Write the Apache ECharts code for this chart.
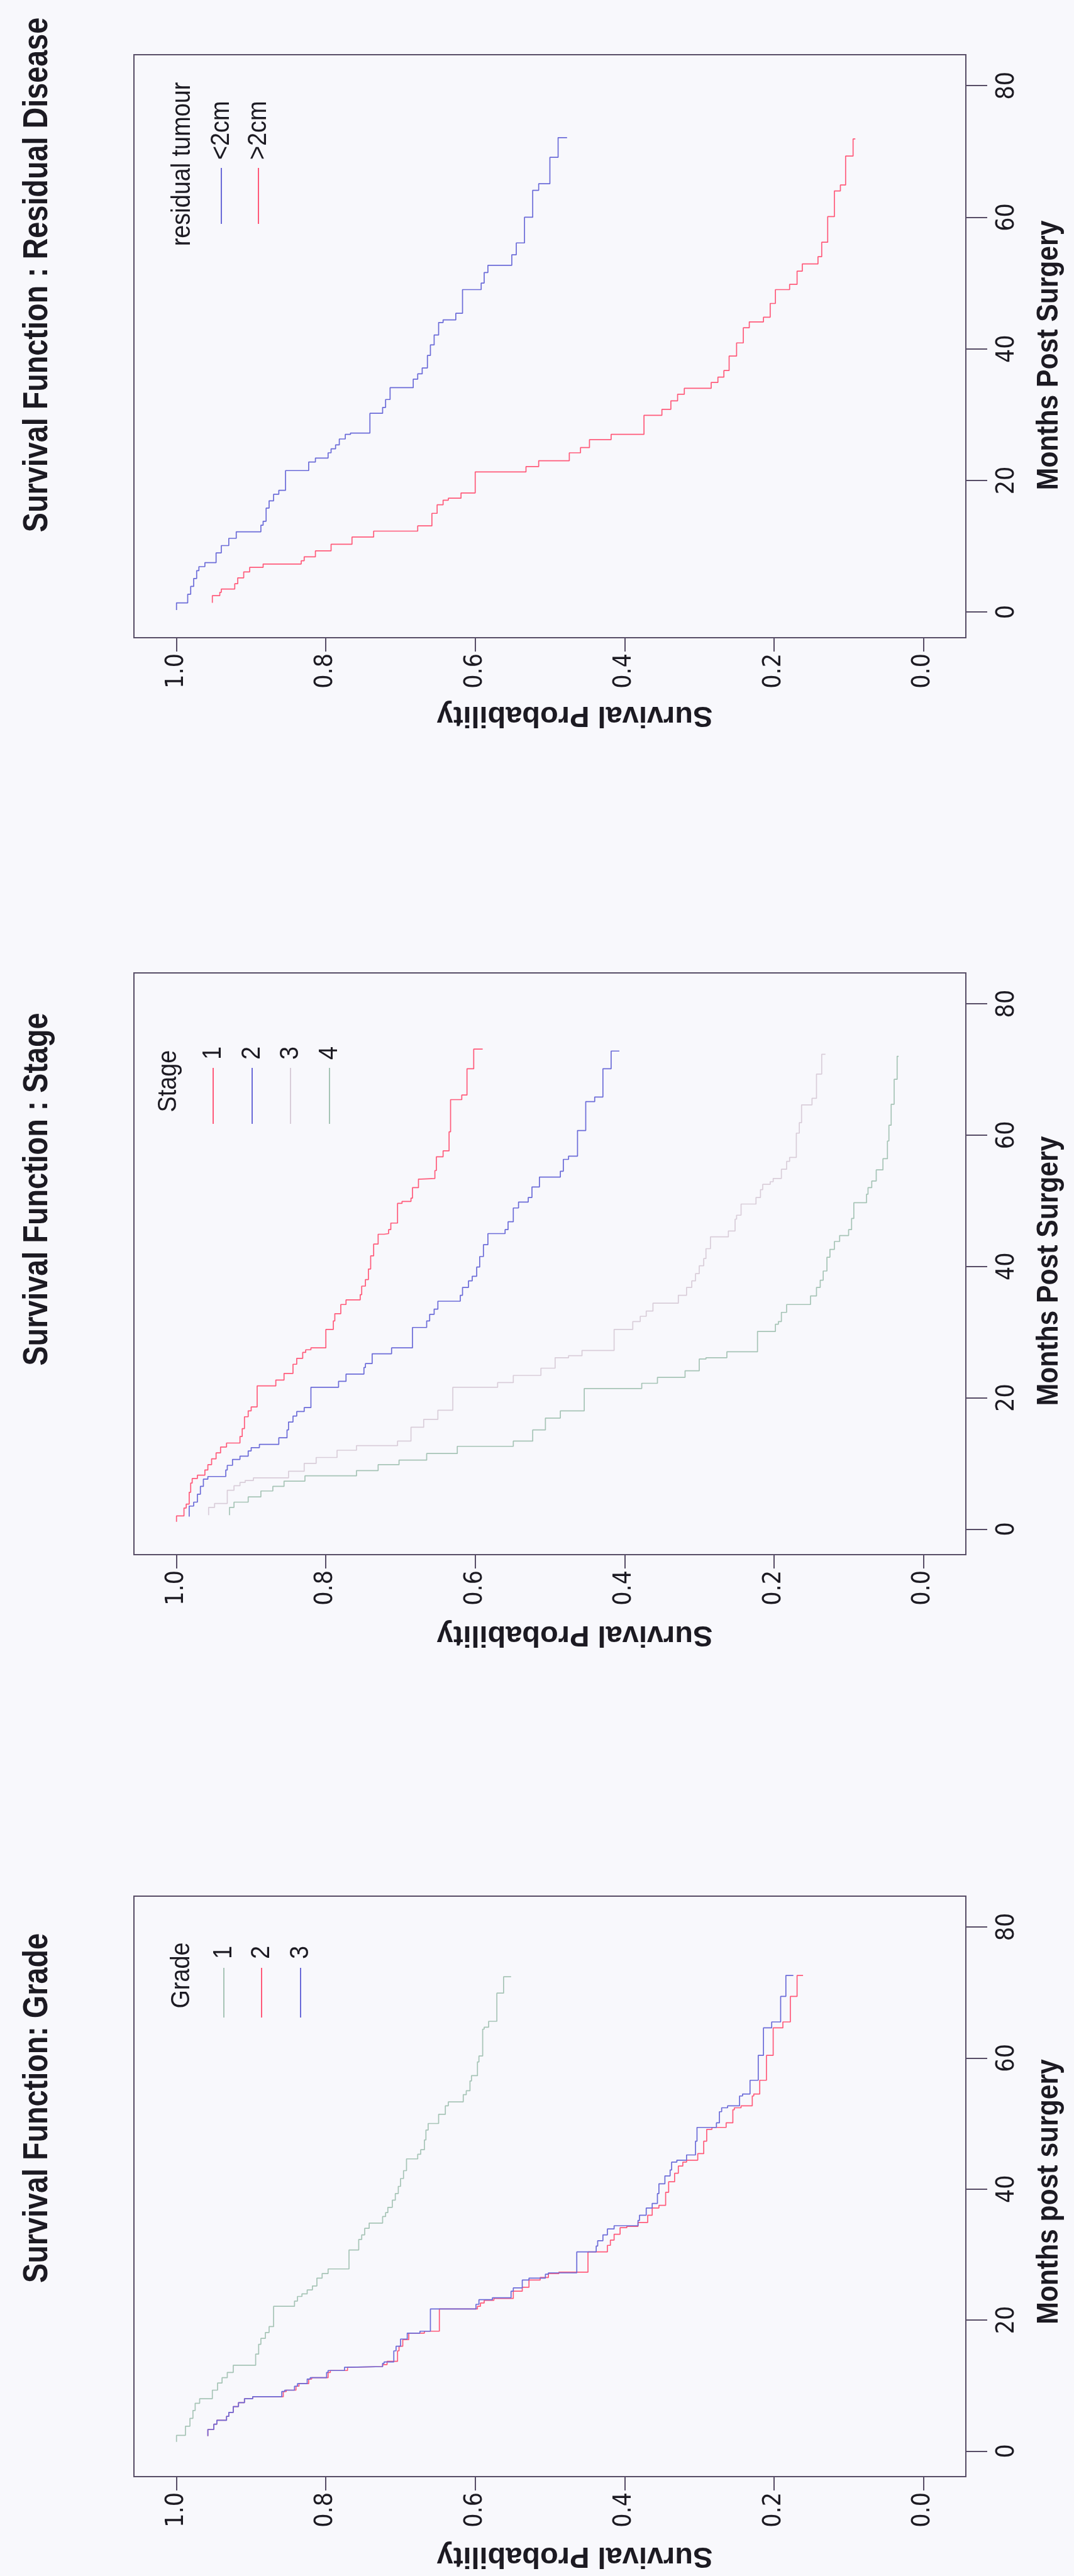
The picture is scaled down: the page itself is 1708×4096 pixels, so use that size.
<!DOCTYPE html>
<html>
<head>
<meta charset="utf-8">
<script src="https://cdn.jsdelivr.net/npm/echarts@6/dist/echarts.min.js"></script>
<style>
  html, body { margin: 0; padding: 0; background: #f8f8fc; }
  #chart { width: 1708px; height: 4096px; }
</style>
</head>
<body>
<div id="chart"></div>
<script>
// axis ticks
const monthTicks = [0, 20, 40, 60, 80];
const probTicks = [0, 0.2, 0.4, 0.6, 0.8, 1.0];

// [months, survival]

// residual disease
const residualSmall = [[0.3,1.0],[1.4,0.985],[2.7,0.981],[3.9,0.977],[5.1,0.973],[6.3,0.970],[6.9,0.962],[7.5,0.947],[9.0,0.940],[10.1,0.930],[11.2,0.920],[12.2,0.887],[13.2,0.884],[13.8,0.880],[15.8,0.876],[16.9,0.870],[17.9,0.863],[18.5,0.854],[21.5,0.823],[22.8,0.814],[23.4,0.797],[24.2,0.793],[24.8,0.787],[25.4,0.782],[26.3,0.774],[27.0,0.767],[27.2,0.741],[30.2,0.724],[31.1,0.720],[32.3,0.714],[34.1,0.683],[35.4,0.677],[36.2,0.671],[37.1,0.664],[39.0,0.660],[40.6,0.655],[42.1,0.649],[44.0,0.643],[44.4,0.626],[45.4,0.617],[49.0,0.592],[50.0,0.588],[51.6,0.583],[52.7,0.551],[54.3,0.545],[56.1,0.534],[60.0,0.523],[64.1,0.515],[65.1,0.500],[69.1,0.489],[72.1,0.477]];
const residualLarge = [[1.4,0.952],[2.5,0.942],[3.0,0.940],[3.5,0.922],[4.3,0.918],[5.2,0.910],[6.1,0.902],[6.8,0.884],[7.3,0.833],[7.8,0.829],[8.4,0.814],[9.3,0.793],[10.3,0.765],[11.4,0.736],[12.3,0.677],[13.1,0.658],[15.0,0.651],[16.3,0.643],[17.0,0.636],[17.3,0.619],[18.1,0.600],[21.3,0.532],[22.1,0.515],[23.0,0.474],[24.2,0.459],[25.0,0.447],[26.2,0.418],[27.0,0.374],[29.9,0.350],[30.8,0.338],[32.1,0.329],[33.1,0.320],[34.0,0.284],[34.9,0.275],[35.7,0.267],[36.7,0.260],[38.9,0.250],[40.9,0.241],[43.2,0.233],[44.1,0.214],[44.8,0.205],[46.9,0.198],[49.0,0.179],[49.8,0.169],[51.8,0.162],[52.9,0.141],[54.0,0.136],[56.2,0.128],[60.1,0.119],[64.0,0.111],[64.9,0.104],[69.3,0.094],[71.9,0.091]];

// stage
const stage1 = [[1.1,1.0],[2.0,0.990],[3.2,0.987],[3.8,0.983],[5.6,0.981],[7.0,0.979],[7.7,0.972],[8.2,0.962],[9.0,0.958],[9.8,0.953],[10.7,0.947],[11.6,0.941],[12.5,0.933],[13.1,0.915],[14.1,0.912],[15.3,0.909],[17.1,0.904],[18.0,0.900],[18.6,0.892],[21.8,0.867],[22.7,0.856],[23.7,0.844],[25.1,0.839],[26.0,0.831],[26.9,0.827],[27.3,0.820],[27.6,0.800],[30.4,0.790],[31.7,0.788],[32.8,0.780],[34.2,0.773],[34.9,0.754],[35.7,0.752],[37.0,0.747],[38.0,0.743],[39.6,0.740],[41.6,0.736],[43.4,0.730],[44.9,0.722],[45.0,0.716],[45.6,0.713],[46.6,0.704],[49.6,0.698],[49.9,0.686],[50.4,0.684],[52.0,0.676],[53.3,0.673],[53.4,0.654],[54.6,0.652],[56.7,0.643],[57.6,0.635],[60.5,0.633],[65.4,0.618],[66.1,0.611],[70.1,0.602],[73.1,0.590]];
const stage2 = [[1.9,0.983],[3.5,0.977],[4.1,0.972],[5.3,0.968],[6.5,0.964],[7.6,0.958],[8.0,0.934],[9.0,0.932],[9.7,0.925],[10.6,0.915],[11.1,0.904],[11.9,0.900],[12.4,0.889],[12.9,0.863],[13.9,0.852],[15.1,0.850],[16.3,0.844],[17.2,0.839],[17.9,0.829],[18.5,0.820],[21.6,0.783],[22.5,0.773],[23.6,0.749],[24.6,0.747],[25.2,0.738],[26.7,0.712],[27.6,0.684],[30.7,0.665],[31.7,0.661],[32.7,0.655],[33.5,0.650],[34.7,0.620],[35.6,0.617],[36.8,0.609],[37.8,0.604],[38.5,0.598],[39.9,0.594],[41.5,0.589],[43.3,0.583],[45.0,0.560],[45.6,0.556],[46.8,0.549],[48.9,0.542],[49.8,0.529],[50.5,0.524],[52.1,0.514],[53.6,0.486],[54.5,0.482],[56.3,0.475],[56.8,0.463],[60.7,0.452],[65.1,0.440],[65.8,0.429],[70.1,0.418],[72.8,0.407]];
const stage3 = [[2.1,0.957],[3.3,0.949],[3.9,0.932],[5.9,0.923],[6.6,0.915],[7.1,0.908],[7.4,0.897],[7.8,0.850],[8.8,0.829],[10.0,0.813],[10.9,0.785],[12.0,0.759],[12.7,0.704],[13.4,0.686],[15.5,0.669],[16.7,0.650],[18.1,0.630],[21.6,0.570],[22.3,0.549],[23.4,0.512],[24.5,0.493],[26.1,0.475],[26.4,0.457],[27.2,0.414],[30.4,0.389],[31.6,0.379],[32.4,0.371],[33.2,0.362],[34.4,0.328],[35.6,0.317],[36.8,0.310],[37.8,0.305],[38.9,0.300],[40.1,0.294],[41.2,0.291],[42.7,0.285],[44.5,0.261],[45.4,0.252],[47.2,0.250],[47.8,0.244],[49.5,0.224],[50.5,0.218],[51.7,0.215],[52.5,0.205],[52.9,0.201],[53.4,0.190],[54.8,0.183],[56.0,0.179],[56.6,0.170],[60.3,0.166],[61.9,0.163],[64.6,0.149],[65.6,0.143],[69.3,0.136],[72.3,0.131]];
const stage4 = [[2.1,0.929],[3.3,0.923],[4.1,0.904],[4.9,0.887],[5.8,0.871],[6.5,0.856],[7.3,0.828],[8.1,0.759],[8.9,0.730],[9.8,0.702],[10.5,0.665],[11.5,0.624],[12.6,0.549],[13.4,0.523],[15.1,0.506],[16.9,0.486],[18.0,0.454],[21.4,0.377],[22.2,0.356],[23.1,0.319],[24.1,0.300],[25.9,0.291],[26.1,0.263],[27.0,0.222],[30.1,0.198],[31.2,0.194],[31.6,0.190],[33.0,0.183],[34.2,0.151],[35.5,0.143],[36.8,0.138],[37.9,0.134],[39.3,0.129],[41.4,0.125],[42.6,0.119],[43.8,0.112],[44.7,0.100],[45.6,0.096],[47.3,0.093],[49.7,0.076],[51.0,0.074],[52.0,0.069],[53.0,0.063],[54.7,0.054],[56.4,0.048],[59.1,0.046],[61.5,0.043],[64.7,0.039],[68.5,0.035],[72.0,0.033]];

// grade
const grade1 = [[1.4,1.0],[2.4,0.988],[3.8,0.982],[5.0,0.978],[6.2,0.975],[7.3,0.969],[8.0,0.952],[9.3,0.945],[10.4,0.939],[11.2,0.932],[12.0,0.924],[13.1,0.894],[14.8,0.890],[16.3,0.887],[17.2,0.881],[18.1,0.876],[19.0,0.870],[22.1,0.842],[22.9,0.838],[23.6,0.832],[24.0,0.825],[24.6,0.818],[25.2,0.812],[26.4,0.805],[27.1,0.797],[27.8,0.769],[30.7,0.756],[32.3,0.752],[33.0,0.748],[34.0,0.742],[34.8,0.724],[35.8,0.720],[36.4,0.717],[37.2,0.711],[38.3,0.707],[39.3,0.703],[40.4,0.700],[41.6,0.696],[42.8,0.692],[44.6,0.677],[45.3,0.673],[46.0,0.668],[47.5,0.666],[49.0,0.663],[50.0,0.649],[51.4,0.640],[52.7,0.636],[53.3,0.616],[54.4,0.612],[55.0,0.607],[56.5,0.605],[57.3,0.597],[59.4,0.595],[60.3,0.590],[64.4,0.588],[64.7,0.582],[65.6,0.571],[69.9,0.562],[72.4,0.552]];
const grade2 = [[2.3,0.958],[3.3,0.950],[4.1,0.946],[4.7,0.933],[5.3,0.930],[5.9,0.924],[6.8,0.917],[7.4,0.909],[8.0,0.898],[8.3,0.857],[9.1,0.853],[9.3,0.840],[9.9,0.836],[10.3,0.823],[11.0,0.819],[11.2,0.797],[12.0,0.794],[12.3,0.771],[12.8,0.768],[12.9,0.724],[13.2,0.718],[13.7,0.704],[15.3,0.702],[16.0,0.697],[17.0,0.689],[18.0,0.668],[18.3,0.648],[21.7,0.597],[22.1,0.593],[22.6,0.588],[23.0,0.575],[23.3,0.549],[24.4,0.537],[25.0,0.528],[26.1,0.513],[26.5,0.502],[27.1,0.488],[27.3,0.449],[30.4,0.423],[31.4,0.419],[32.2,0.414],[33.1,0.406],[34.1,0.397],[34.3,0.382],[34.9,0.369],[36.0,0.363],[37.1,0.354],[37.5,0.345],[39.5,0.341],[41.1,0.333],[42.4,0.328],[43.5,0.322],[44.1,0.317],[44.4,0.302],[45.4,0.294],[47.3,0.290],[49.1,0.283],[49.4,0.264],[50.1,0.255],[52.1,0.253],[52.4,0.244],[52.7,0.229],[54.2,0.227],[54.5,0.219],[56.6,0.210],[60.4,0.201],[64.6,0.188],[65.5,0.178],[69.4,0.169],[72.6,0.161]];
const grade3 = [[2.3,0.958],[3.3,0.950],[4.1,0.946],[4.7,0.933],[5.3,0.930],[5.9,0.924],[6.8,0.917],[7.4,0.909],[8.0,0.898],[8.3,0.859],[9.1,0.855],[9.3,0.842],[9.9,0.838],[10.3,0.825],[11.0,0.821],[11.2,0.799],[12.0,0.797],[12.3,0.775],[12.8,0.771],[12.9,0.724],[13.4,0.722],[13.6,0.709],[15.3,0.706],[16.0,0.700],[17.1,0.691],[18.0,0.674],[18.3,0.660],[21.7,0.599],[22.4,0.595],[23.1,0.577],[23.4,0.552],[24.4,0.549],[24.9,0.537],[26.1,0.528],[26.4,0.506],[27.0,0.502],[27.2,0.464],[30.4,0.438],[31.3,0.436],[32.1,0.429],[33.0,0.423],[33.9,0.414],[34.4,0.382],[35.2,0.380],[36.0,0.371],[37.1,0.363],[37.8,0.356],[39.3,0.354],[40.8,0.346],[42.0,0.339],[42.9,0.337],[44.1,0.330],[44.4,0.317],[45.2,0.305],[47.3,0.303],[49.4,0.277],[50.1,0.273],[51.8,0.270],[52.4,0.262],[52.7,0.246],[54.2,0.242],[54.5,0.232],[56.6,0.221],[60.4,0.214],[64.6,0.203],[65.5,0.191],[69.4,0.184],[72.6,0.174]];

const BLUE = '#6b6bd8';
const RED = '#ff5a7a';
const GREY = '#d9cdd9';
const GREEN = '#a6c4b6';
const BOX = '#574d66';
const INK = '#1c1a22';
const SANS = "'Liberation Sans', Arial, Helvetica, sans-serif";
const NARROW = "'Liberation Sans Narrow', 'Arial Narrow', 'DejaVu Sans Condensed', sans-serif";

// panel layout (pixels), top to bottom as on the page
const panels = [
  {
    top: 87, height: 927,
    title: 'Survival Function : Residual Disease', titleY: 437,
    monthsName: 'Months Post Surgery', monthsNameY: 565, probNameY: 1137,
    legendTitle: 'residual tumour', legendTitleX: 290, legendTitleY: 261,
    labelY: 254, lineY: [267, 356],
    curves: [
      { label: '<2cm', data: residualSmall, color: BLUE, x: 352 },
      { label: '>2cm', data: residualLarge, color: RED, x: 411 }
    ]
  },
  {
    top: 1547, height: 925,
    title: 'Survival Function : Stage', titleY: 1891,
    monthsName: 'Months Post Surgery', monthsNameY: 2021, probNameY: 2599,
    legendTitle: 'Stage', legendTitleX: 268, legendTitleY: 1719,
    labelY: 1685, lineY: [1698, 1787],
    curves: [
      { label: '1', data: stage1, color: RED, x: 339 },
      { label: '2', data: stage2, color: BLUE, x: 401 },
      { label: '3', data: stage3, color: GREY, x: 462 },
      { label: '4', data: stage4, color: GREEN, x: 524 }
    ]
  },
  {
    top: 3015, height: 923,
    title: 'Survival Function: Grade', titleY: 3352,
    monthsName: 'Months post surgery', monthsNameY: 3485, probNameY: 4064,
    legendTitle: 'Grade', legendTitleX: 289, legendTitleY: 3141,
    labelY: 3115, lineY: [3129, 3208],
    curves: [
      { label: '1', data: grade1, color: GREEN, x: 356 },
      { label: '2', data: grade2, color: RED, x: 416 },
      { label: '3', data: grade3, color: BLUE, x: 478 }
    ]
  }
];

function txt(x, y, text, size, weight, rotation, scale, align) {
  return {
    type: 'text', x: x, y: y, rotation: rotation, scaleX: scale, silent: true,
    style: {
      text: text, fontSize: size, fontWeight: weight, fontFamily: SANS, fill: INK,
      align: align, verticalAlign: 'middle', textAlign: align, textVerticalAlign: 'middle'
    }
  };
}

const grids = [], xAxes = [], yAxes = [], series = [], graphics = [];
const UP = Math.PI / 2;

panels.forEach((p, i) => {
  grids.push({
    left: 213, width: 1323, top: p.top, height: p.height,
    show: true, borderColor: BOX, borderWidth: 2, backgroundColor: 'transparent'
  });
  // survival probability runs left (1.0) to right (0.0)
  xAxes.push({
    gridIndex: i, type: 'value', min: -0.057, max: 1.057, inverse: true, position: 'bottom',
    axisLine: { show: false, onZero: false }, splitLine: { show: false },
    axisTick: { length: 22, lineStyle: { color: BOX, width: 2 }, customValues: probTicks },
    axisLabel: {
      customValues: probTicks, rotate: 90, margin: 25, color: INK,
      fontSize: 39, fontFamily: NARROW, formatter: v => v.toFixed(1)
    }
  });
  // months run bottom (0) to top (80) on the right edge
  yAxes.push({
    gridIndex: i, type: 'value', min: -3.9, max: 84.7, position: 'right',
    axisLine: { show: false, onZero: false }, splitLine: { show: false },
    axisTick: { length: 34, lineStyle: { color: BOX, width: 2 }, customValues: monthTicks },
    axisLabel: {
      customValues: monthTicks, rotate: 90, margin: 46, color: INK,
      fontSize: 39, fontFamily: NARROW, formatter: v => String(v)
    }
  });

  p.curves.forEach(c => {
    series.push({
      type: 'line', xAxisIndex: i, yAxisIndex: i, name: p.legendTitle + ' ' + c.label,
      data: c.data.map(d => [d[1], d[0]]),
      step: 'start', showSymbol: false, symbol: 'none', silent: true,
      lineStyle: { color: c.color, width: 1.7 }, itemStyle: { color: c.color }
    });
    graphics.push({
      type: 'line', silent: true,
      shape: { x1: c.x, y1: p.lineY[0], x2: c.x, y2: p.lineY[1] },
      style: { stroke: c.color, lineWidth: 2 }
    });
    graphics.push(txt(c.x, p.labelY, c.label, 42, 'normal', UP, 0.9, 'left'));
  });

  graphics.push(txt(60, p.titleY, p.title, 56, 'bold', UP, 0.835, 'center'));
  graphics.push(txt(1668, p.monthsNameY, p.monthsName, 49, 'bold', UP, 0.87, 'center'));
  graphics.push(txt(914, p.probNameY, 'Survival Probability', 47, 'bold', Math.PI, 1, 'center'));
  graphics.push(txt(p.legendTitleX, p.legendTitleY, p.legendTitle, 42, 'normal', UP, 0.9, 'center'));
});

const chart = echarts.init(document.getElementById('chart'), null, { renderer: 'canvas' });
chart.setOption({
  backgroundColor: '#f8f8fc',
  animation: false,
  grid: grids,
  xAxis: xAxes,
  yAxis: yAxes,
  series: series,
  graphic: { elements: graphics }
});
</script>
</body>
</html>
